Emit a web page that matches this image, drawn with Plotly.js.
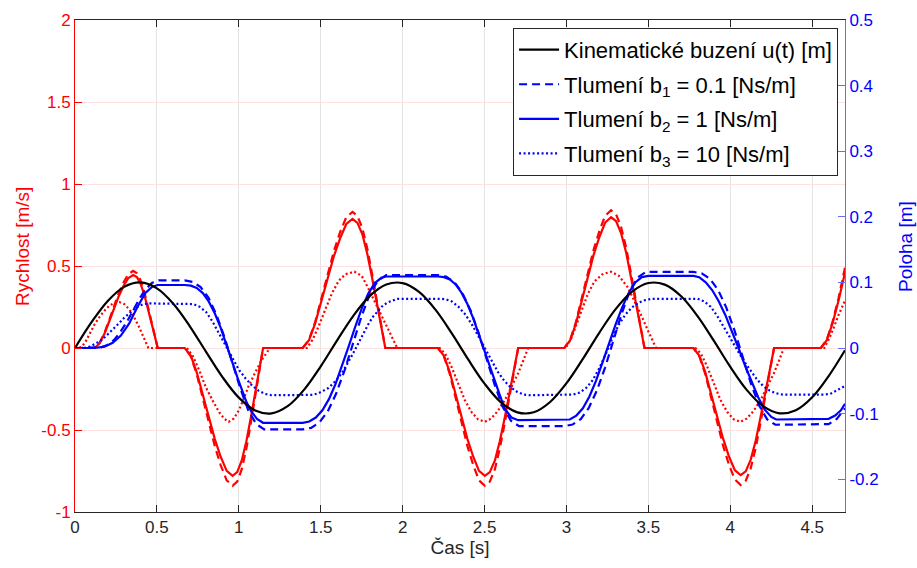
<!DOCTYPE html>
<html>
<head>
<meta charset="utf-8">
<script src="https://cdn.plot.ly/plotly-3.0.1.min.js"></script>
<style>html,body{margin:0;padding:0;background:#fff;}#chart{width:917px;height:568px;}</style>
</head>
<body>
<div id="chart"></div>
<script>
// ---- time axis ticks ----
const xTicks = [0, 0.5, 1, 1.5, 2, 2.5, 3, 3.5, 4, 4.5];
const xTickText = ['0', '0.5', '1', '1.5', '2', '2.5', '3', '3.5', '4', '4.5'];
const yLeftTicks = [-1, -0.5, 0, 0.5, 1, 1.5, 2];
const yLeftTickText = ['-1', '-0.5', '0', '0.5', '1', '1.5', '2'];
const yRightTicks = [-0.2, -0.1, 0, 0.1, 0.2, 0.3, 0.4, 0.5];
const yRightTickText = ['-0.2', '-0.1', '0', '0.1', '0.2', '0.3', '0.4', '0.5'];

// ---- kinematic excitation u(t) [m] ----
const tBlack = [0,0.1,0.2,0.3,0.4,0.5,0.6,0.7,0.8,0.9,1.0,1.1,1.2,1.3,1.4,1.5,1.6,1.7,1.8,1.9,2.0,2.1,2.2,2.3,2.4,2.5,2.6,2.7,2.8,2.9,3.0,3.1,3.2,3.3,3.4,3.5,3.6,3.7,3.8,3.9,4.0,4.1,4.2,4.3,4.4,4.5,4.6,4.7];
const uBlack = [0,0.03894,0.07174,0.0932,0.09996,0.09093,0.06755,0.0335,-0.00584,-0.04425,-0.07568,-0.09516,-0.09962,-0.08835,-0.06313,-0.02794,0.01165,0.04941,0.07937,0.09679,0.09894,0.08546,0.05849,0.02229,-0.01743,-0.0544,-0.08278,-0.09809,-0.098,-0.08228,-0.05366,-0.01656,0.02315,0.05921,0.08589,0.09906,0.09661,0.07885,0.04863,0.01078,-0.02879,-0.06381,-0.08872,-0.09956,-0.09483,-0.0751,-0.04282,-0.00336];

// ---- velocities [m/s] (left axis) ----
const tRed = [0,0.12,0.149,0.179,0.208,0.238,0.267,0.296,0.326,0.355,0.378,0.40,0.423,0.445,0.475,0.505,
0.67,0.707,0.743,0.780,0.816,0.853,0.889,0.926,0.962,0.990,1.018,1.046,1.074,1.111,1.148,
1.39,1.428,1.466,1.504,1.542,1.58,1.618,1.656,1.694,1.724,1.754,1.784,1.814,1.854,1.894,
2.216,2.252,2.288,2.323,2.359,2.395,2.431,2.466,2.502,2.532,2.563,2.593,2.624,2.664,2.705,
2.987,3.023,3.058,3.094,3.130,3.165,3.201,3.236,3.272,3.303,3.333,3.364,3.394,3.435,3.476,
3.775,3.811,3.847,3.883,3.919,3.955,3.991,4.027,4.063,4.094,4.124,4.155,4.185,4.226,4.267,
4.553,4.589,4.624,4.66,4.7];
const vRedB2 = [0,0,0.027,0.085,0.160,0.240,0.316,0.378,0.427,0.445,0.432,0.392,0.325,0.240,0.120,0,
0,-0.047,-0.148,-0.281,-0.421,-0.554,-0.663,-0.749,-0.78,-0.757,-0.686,-0.569,-0.421,-0.211,0,
0,0.047,0.150,0.283,0.425,0.559,0.669,0.756,0.787,0.763,0.693,0.575,0.425,0.212,0,
0,-0.047,-0.148,-0.281,-0.421,-0.554,-0.663,-0.749,-0.78,-0.757,-0.686,-0.569,-0.421,-0.211,0,
0,0.048,0.151,0.287,0.430,0.566,0.677,0.765,0.797,0.773,0.701,0.582,0.430,0.215,0,
0,-0.047,-0.147,-0.279,-0.419,-0.550,-0.659,-0.744,-0.775,-0.752,-0.682,-0.566,-0.419,-0.209,0,
0,0.048,0.151,0.287,0.46];
const vRedB1 = [0,0,0.029,0.090,0.169,0.253,0.334,0.399,0.451,0.470,0.456,0.414,0.343,0.253,0.127,0,
0,-0.051,-0.159,-0.303,-0.453,-0.597,-0.714,-0.807,-0.84,-0.815,-0.739,-0.613,-0.453,-0.227,0,
0,0.050,0.158,0.299,0.448,0.590,0.706,0.798,0.83,0.805,0.731,0.607,0.448,0.224,0,
0,-0.051,-0.159,-0.303,-0.453,-0.597,-0.714,-0.807,-0.84,-0.815,-0.739,-0.613,-0.453,-0.227,0,
0,0.051,0.159,0.302,0.453,0.597,0.714,0.806,0.84,0.815,0.739,0.613,0.453,0.227,0,
0,-0.051,-0.158,-0.300,-0.451,-0.592,-0.710,-0.801,-0.835,-0.810,-0.735,-0.610,-0.451,-0.225,0,
0,0.051,0.159,0.302,0.49];
const tRedB3 = [0,0.03,0.06,0.09,0.12,0.15,0.18,0.21,0.24,0.27,0.30,0.33,0.36,0.39,0.42,0.448,
0.683,0.72,0.76,0.797,0.84,0.879,0.91,0.938,0.97,1.0,1.03,1.058,1.1,1.14,1.19,
1.415,1.45,1.486,1.53,1.568,1.61,1.65,1.706,1.75,1.792,1.84,1.894,1.93,1.967,
2.226,2.26,2.298,2.34,2.379,2.42,2.46,2.502,2.54,2.58,2.624,2.665,2.705,2.735,2.766,
2.995,3.03,3.06,3.089,3.13,3.17,3.22,3.272,3.32,3.374,3.42,3.456,3.5,3.547,
3.787,3.821,3.859,3.901,3.94,3.981,4.021,4.063,4.101,4.141,4.185,4.226,4.266,4.296,4.327,
4.573,4.6,4.63,4.66,4.7];
const vRedB3 = [0,0,0.03,0.09,0.145,0.19,0.228,0.258,0.276,0.28,0.268,0.237,0.19,0.13,0.065,0,
0,-0.05,-0.14,-0.236,-0.32,-0.39,-0.43,-0.45,-0.43,-0.38,-0.31,-0.236,-0.15,-0.073,0,
0,0.05,0.13,0.24,0.333,0.41,0.45,0.465,0.44,0.36,0.26,0.15,0.08,0,
0,-0.035,-0.114,-0.22,-0.317,-0.39,-0.435,-0.45,-0.43,-0.385,-0.317,-0.235,-0.154,-0.08,0,
0,0.06,0.14,0.22,0.33,0.405,0.45,0.465,0.44,0.37,0.28,0.2,0.1,0,
0,-0.035,-0.114,-0.22,-0.317,-0.39,-0.435,-0.45,-0.43,-0.385,-0.317,-0.235,-0.154,-0.08,0,
0,0.05,0.12,0.2,0.29];

// ---- positions [m] (right axis) ----
const tBlueB1 = [0,0.12,0.159,0.198,0.237,0.276,0.315,0.354,0.393,0.432,0.471,0.51,
0.67,0.7185,0.767,0.8155,0.864,0.9125,0.961,1.0095,1.058,1.1065,1.155,
1.39,1.441,1.492,1.543,1.594,1.645,1.696,1.747,1.798,1.849,1.90,
2.216,2.265,2.315,2.364,2.414,2.463,2.512,2.562,2.611,2.661,2.71,
2.987,3.037,3.087,3.136,3.186,3.236,3.286,3.336,3.385,3.435,3.485,
3.775,3.825,3.875,3.925,3.975,4.025,4.075,4.125,4.175,4.225,4.275,
4.553,4.6,4.65,4.7];
const pBlueB1 = [0,0,0.001,0.0046,0.012,0.0239,0.0392,0.057,0.0749,0.0899,0.0994,0.103,
0.103,0.1008,0.0928,0.0764,0.0503,0.0165,-0.0225,-0.062,-0.0952,-0.116,-0.124,
-0.124,-0.1217,-0.1134,-0.0965,-0.0695,-0.0345,0.006,0.0468,0.0812,0.1027,0.111,
0.111,0.1088,0.1007,0.0841,0.0576,0.0234,-0.0162,-0.0562,-0.0898,-0.1109,-0.119,
-0.119,-0.1167,-0.1084,-0.0915,-0.0645,-0.0295,0.011,0.0518,0.0862,0.1077,0.116,
0.116,0.1137,0.1055,0.0887,0.0619,0.0272,-0.0128,-0.0534,-0.0874,-0.1088,-0.117,
-0.117,-0.116,-0.108,-0.092];
const tBlueB2 = [0,0.12,0.18,0.23,0.28,0.33,0.38,0.43,0.47,0.505,
0.67,0.707,0.743,0.780,0.816,0.853,0.889,0.926,0.962,0.990,1.018,1.046,1.074,1.111,1.148,
1.39,1.43,1.47,1.51,1.55,1.59,1.63,1.67,1.71,1.75,1.79,1.83,1.87,1.9,
2.216,2.252,2.288,2.323,2.359,2.395,2.431,2.466,2.502,2.532,2.563,2.593,2.624,2.664,2.705,
2.987,3.02,3.06,3.1,3.14,3.18,3.22,3.26,3.3,3.34,3.38,3.42,3.46,3.5,
3.775,3.81,3.85,3.89,3.93,3.97,4.01,4.05,4.09,4.13,4.17,4.21,4.25,4.28,
4.553,4.6,4.64,4.675,4.7];
const pBlueB2 = [0,0,0.002,0.008,0.019,0.037,0.062,0.084,0.093,0.096,
0.096,0.095,0.0915,0.0837,0.071,0.053,0.031,0.005,-0.023,-0.044,-0.064,-0.082,-0.096,-0.108,-0.114,
-0.114,-0.112,-0.106,-0.095,-0.078,-0.055,-0.028,0.002,0.032,0.06,0.083,0.099,0.107,0.109,
0.109,0.108,0.1046,0.0969,0.0844,0.067,0.0452,0.0199,-0.0074,-0.0308,-0.0529,-0.072,-0.093,-0.106,-0.11,
-0.11,-0.109,-0.103,-0.092,-0.074,-0.05,-0.022,0.008,0.036,0.062,0.084,0.1,0.108,0.11,
0.11,0.108,0.1,0.088,0.071,0.05,0.026,0.0,-0.027,-0.052,-0.075,-0.094,-0.105,-0.109,
-0.109,-0.108,-0.103,-0.095,-0.085];
const tBlueB3 = [0,0.03,0.06,0.09,0.12,0.15,0.18,0.21,0.24,0.27,0.30,0.33,0.36,0.39,0.42,0.45,
0.683,0.72,0.76,0.80,0.84,0.88,0.92,0.96,1.0,1.04,1.08,1.12,1.16,1.2,
1.415,1.45,1.486,1.52,1.547,1.58,1.609,1.64,1.67,1.70,1.731,1.76,1.792,1.82,1.853,1.88,1.914,1.94,1.967,
2.226,2.26,2.30,2.34,2.38,2.42,2.46,2.50,2.54,2.58,2.62,2.66,2.70,2.74,2.77,
3.0,3.04,3.08,3.12,3.16,3.20,3.24,3.28,3.32,3.36,3.40,3.44,3.48,3.52,
3.80,3.84,3.88,3.92,3.96,4.00,4.04,4.08,4.12,4.16,4.20,4.24,4.28,4.32,
4.573,4.61,4.654,4.7];
const pBlueB3 = [0,0,0.0004,0.002,0.0054,0.010,0.016,0.023,0.030,0.038,0.046,0.053,0.059,0.064,0.067,0.068,
0.068,0.067,0.063,0.055,0.04,0.022,0.003,-0.016,-0.033,-0.046,-0.057,-0.065,-0.07,-0.072,
-0.072,-0.0715,-0.069,-0.065,-0.061,-0.053,-0.045,-0.034,-0.021,-0.007,0.008,0.022,0.037,0.048,0.058,0.065,0.07,0.073,0.075,
0.075,0.0745,0.071,0.063,0.052,0.037,0.019,0.0,-0.019,-0.036,-0.05,-0.06,-0.067,-0.071,-0.072,
-0.072,-0.071,-0.068,-0.061,-0.049,-0.031,-0.009,0.015,0.036,0.051,0.062,0.069,0.073,0.075,
0.075,0.071,0.063,0.049,0.032,0.015,-0.002,-0.019,-0.033,-0.047,-0.058,-0.065,-0.069,-0.071,
-0.071,-0.07,-0.064,-0.058];

const legendNames = [
  'Kinematické buzení u(t) [m]',
  'Tlumení b<sub>1</sub> = 0.1 [Ns/m]',
  'Tlumení b<sub>2</sub> = 1 [Ns/m]',
  'Tlumení b<sub>3</sub> = 10 [Ns/m]'
];
const axisTitles = ['Čas [s]', 'Rychlost [m/s]', 'Poloha [m]'];

const RED = '#ff0000', BLUE = '#0000ff', BLACK = '#000000';
const LW = 2.2;
const DASH = '8px,5px';
const DOT = '2px,2.5px';

const traces = [
  {x: tRed, y: vRedB2, yaxis: 'y', mode: 'lines', line: {color: RED, width: LW}, showlegend: false, hoverinfo: 'skip'},
  {x: tRed, y: vRedB1, yaxis: 'y', mode: 'lines', line: {color: RED, width: LW, dash: DASH}, showlegend: false, hoverinfo: 'skip'},
  {x: tRedB3, y: vRedB3, yaxis: 'y', mode: 'lines', line: {color: RED, width: LW, dash: DOT}, showlegend: false, hoverinfo: 'skip'},
  {x: tBlueB1, y: pBlueB1, yaxis: 'y2', mode: 'lines', name: legendNames[1], legendrank: 2, legendgroup: 'g2', line: {color: BLUE, width: LW, dash: DASH}},
  {x: tBlueB2, y: pBlueB2, yaxis: 'y2', mode: 'lines', name: legendNames[2], legendrank: 3, legendgroup: 'g3', line: {color: BLUE, width: LW}},
  {x: tBlueB3, y: pBlueB3, yaxis: 'y2', mode: 'lines', name: legendNames[3], legendrank: 4, legendgroup: 'g4', line: {color: BLUE, width: LW, dash: DOT}},
  {x: tBlack, y: uBlack, yaxis: 'y2', mode: 'lines', line: {shape: 'spline', color: BLACK, width: LW}, name: legendNames[0], legendrank: 1, legendgroup: 'g1'}
];

const layout = {
  width: 917, height: 568,
  margin: {l: 75, r: 72, t: 20, b: 56},
  paper_bgcolor: '#ffffff', plot_bgcolor: '#ffffff',
  font: {family: 'Liberation Sans, Arial, sans-serif', size: 17, color: '#262626'},
  showlegend: true,
  xaxis: {
    range: [0, 4.7], tickmode: 'array', tickvals: xTicks, ticktext: xTickText,
    ticks: 'inside', ticklen: 7, tickcolor: '#262626', tickwidth: 1,
    showline: true, linecolor: '#262626', linewidth: 1, mirror: 'ticks',
    showgrid: true, gridcolor: '#e3e3e3', gridwidth: 1, zeroline: false,
    tickfont: {size: 17, color: '#262626'},
    title: {text: axisTitles[0], font: {size: 19, color: '#262626'}, standoff: 4}
  },
  yaxis: {
    range: [-1, 2], tickmode: 'array', tickvals: yLeftTicks, ticktext: yLeftTickText,
    ticks: 'inside', ticklen: 7, tickcolor: RED, tickwidth: 1,
    showline: true, linecolor: RED, linewidth: 1,
    showgrid: true, gridcolor: '#ffe1e1', gridwidth: 1, zeroline: false,
    tickfont: {size: 17, color: RED}
  },
  yaxis2: {
    range: [-0.25, 0.5], overlaying: 'y', side: 'right', tickmode: 'array',
    tickvals: yRightTicks, ticktext: yRightTickText,
    ticks: 'inside', ticklen: 7, tickcolor: '#6a6aff', tickwidth: 1,
    showline: true, linecolor: '#6a6aff', linewidth: 1,
    showgrid: false, zeroline: false,
    tickfont: {size: 17, color: BLUE}
  },
  annotations: [
    {text: axisTitles[1], xref: 'paper', yref: 'paper', x: -53 / 770, y: (512 - 247) / 492,
     xanchor: 'center', yanchor: 'middle', textangle: -90, showarrow: false,
     font: {size: 19, color: RED}},
    {text: axisTitles[2], xref: 'paper', yref: 'paper', x: 1 + 60 / 770, y: (512 - 247) / 492,
     xanchor: 'center', yanchor: 'middle', textangle: -90, showarrow: false,
     font: {size: 19, color: BLUE}}
  ],
  legend: {
    x: 0.991, xanchor: 'right', y: 0.984, yanchor: 'top',
    bgcolor: '#ffffff', bordercolor: '#262626', borderwidth: 1,
    font: {size: 22, color: '#000000'}, itemwidth: 40, traceorder: 'grouped', tracegroupgap: 3
  }
};

Plotly.newPlot('chart', traces, layout, {displayModeBar: false, staticPlot: true});
</script>
</body>
</html>
